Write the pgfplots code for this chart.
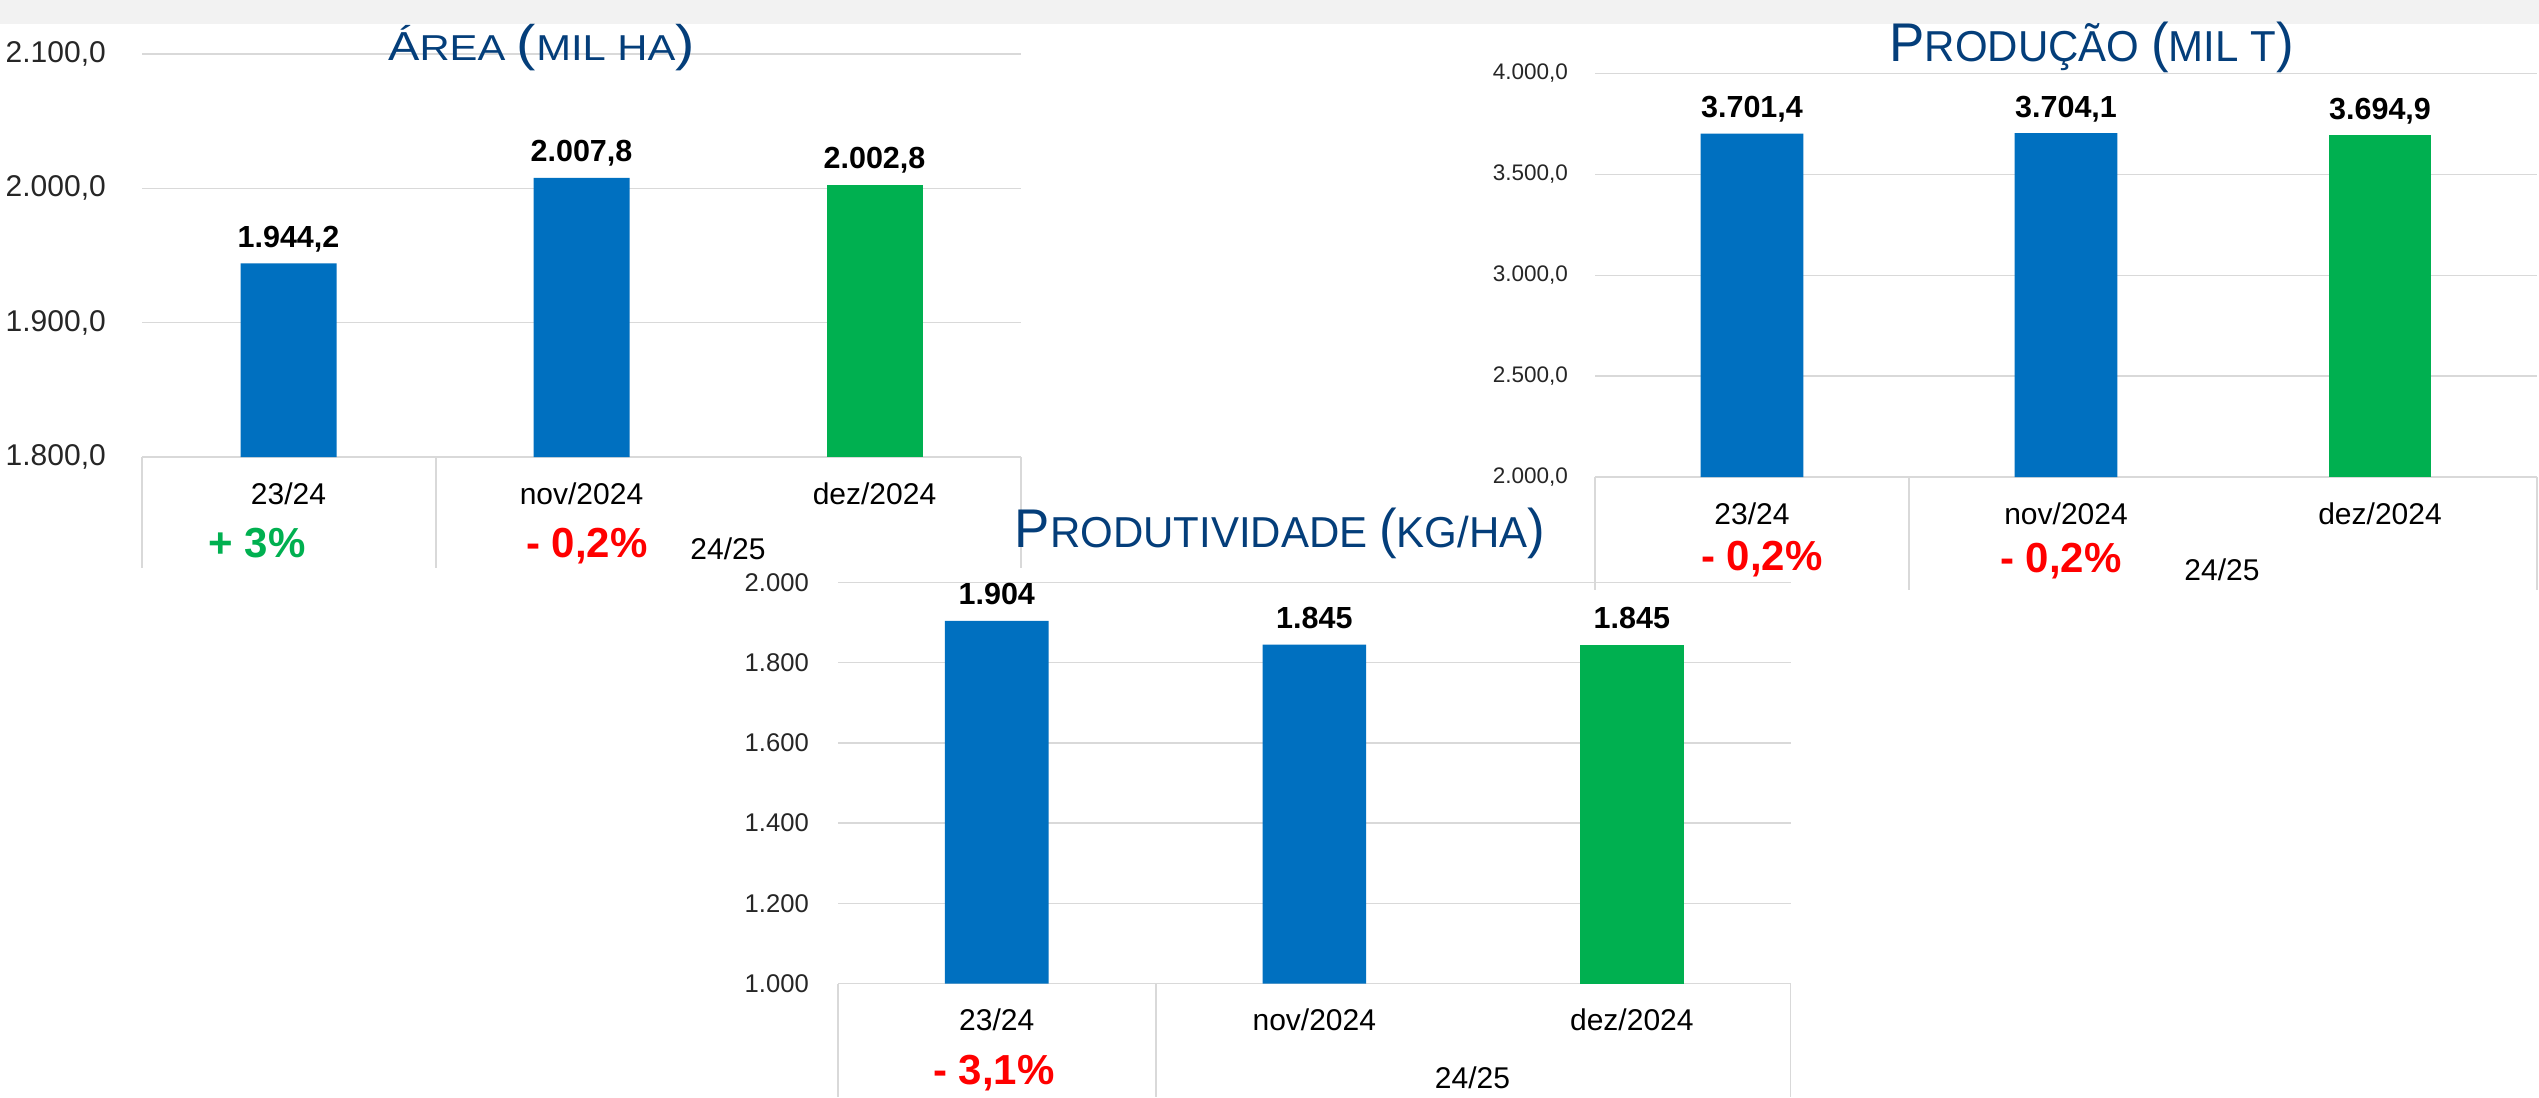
\documentclass[border=0pt]{standalone}
\usepackage{fontspec}
\setmainfont{Liberation Sans}
\usepackage{pgfplots}
\pgfplotsset{compat=1.18}

\definecolor{barblue}{HTML}{0070C0}
\definecolor{bargreen}{HTML}{00B050}
\definecolor{titleblue}{RGB}{4,62,122}
\definecolor{gridgray}{HTML}{D9D9D9}
\definecolor{bandgray}{HTML}{F2F2F2}
\definecolor{pctred}{HTML}{FF0000}
\definecolor{pctgreen}{HTML}{00B050}
\definecolor{ticktext}{HTML}{262626}

\newcommand\fs[1]{\fontsize{#1}{#1}\selectfont}

\pgfplotsset{
  excelbars/.style={
    scale only axis, anchor=south west,
    xmin=-0.5, xmax=2.5,
    axis line style={draw=none},
    major tick length=0pt,
    ymajorgrids, grid style={draw=gridgray, line width=1.5pt},
    xtick={0,1,2}, xticklabels={23/24,nov/2024,dez/2024},
    xticklabel style={anchor=base, inner sep=0pt, yshift=-47pt, font=\fs{30}, text=black},
    yticklabel style={anchor=east, inner sep=0pt, text=ticktext},
    /pgf/number format/use comma,
    /pgf/number format/fixed,
    /pgf/number format/fixed zerofill,
    /pgf/number format/assume math mode=true,
    point meta=explicit symbolic,
    nodes near coords,
    nodes near coords style={font=\bfseries\fs{30.5}, anchor=base, inner sep=0pt, yshift=16pt, text=black},
    clip mode=individual,
  },
}

\begin{document}
\begin{tikzpicture}[x=1pt,y=1pt]
\fill[white] (0,0) rectangle (2539,-1097);
\fill[bandgray] (0,0) rectangle (2539,-24);

% ---- Area (mil ha)
\begin{axis}[excelbars, at={(142pt,-457pt)}, width=879pt, height=403pt,
    ymin=1800, ymax=2100, ytick={1800,1900,2000,2100},
    /pgf/number format/precision=1,
    yticklabel style={font=\fs{30}, xshift=-36pt}]
  \addplot[ybar, bar width=96pt, bar shift=0pt, fill=barblue, draw=none]
    coordinates {(0,1944.2) [1.944,2] (1,2007.8) [2.007,8]};
  \addplot[ybar, bar width=96pt, bar shift=0pt, fill=bargreen, draw=none]
    coordinates {(2,2002.8) [2.002,8]};
\end{axis}

% ---- Producao (mil t)
\begin{axis}[excelbars, at={(1595pt,-477pt)}, width=942pt, height=403.5pt,
    ymin=2000, ymax=4000, ytick={2000,2500,3000,3500,4000},
    /pgf/number format/precision=1,
    yticklabel style={font=\fs{22.5}, xshift=-27pt}]
  \addplot[ybar, bar width=102.6pt, bar shift=0pt, fill=barblue, draw=none]
    coordinates {(0,3701.4) [3.701,4] (1,3704.1) [3.704,1]};
  \addplot[ybar, bar width=102.6pt, bar shift=0pt, fill=bargreen, draw=none]
    coordinates {(2,3694.9) [3.694,9]};
\end{axis}

% ---- Produtividade (kg/ha)
\begin{axis}[excelbars, at={(838pt,-983.7pt)}, width=952.6pt, height=401.4pt,
    ymin=1000, ymax=2000, ytick={1000,1200,1400,1600,1800,2000},
    /pgf/number format/precision=0,
    yticklabel style={font=\fs{25.6}, xshift=-29pt}]
  \addplot[ybar, bar width=103.6pt, bar shift=0pt, fill=barblue, draw=none]
    coordinates {(0,1904) [1.904] (1,1845) [1.845]};
  \addplot[ybar, bar width=103.6pt, bar shift=0pt, fill=bargreen, draw=none]
    coordinates {(2,1845) [1.845]};
\end{axis}

% category table dividers
\begin{scope}[draw=gridgray, line width=1.5pt]
  \draw (142,-457) -- (142,-568);
  \draw (436,-457) -- (436,-568);
  \draw (1021,-457) -- (1021,-568);
  \draw (1595,-477) -- (1595,-590);
  \draw (1909,-477) -- (1909,-590);
  \draw (2537,-477) -- (2537,-590);
  \draw (838,-983.7) -- (838,-1097);
  \draw (1156,-983.7) -- (1156,-1097);
  \draw (1790.6,-983.7) -- (1790.6,-1097);
\end{scope}

% group labels and variations
\begin{scope}[every node/.style={anchor=base, inner sep=0pt}]
  \node[font=\fs{30}] at (728,-559) {24/25};
  \node[font=\fs{30}] at (2222,-580) {24/25};
  \node[font=\fs{30}] at (1472.5,-1088) {24/25};
  \node[font=\bfseries\fs{42}, text=pctgreen] at (257,-557) {+ 3\%};
  \node[font=\bfseries\fs{42}, text=pctred] at (587,-557) {- 0,2\%};
  \node[font=\bfseries\fs{42}, text=pctred] at (1762,-570) {- 0,2\%};
  \node[font=\bfseries\fs{42}, text=pctred] at (2061,-572) {- 0,2\%};
  \node[font=\bfseries\fs{42}, text=pctred] at (994,-1084) {- 3,1\%};
\end{scope}

% titles (small caps as in the slide)
\begin{scope}[every node/.style={anchor=base, inner sep=0pt, text=titleblue}]
  \node at (541.5,-60.7) {\scalebox{1.16}[1]{\fs{40.5}Á\fs{36}REA \fs{50}(\fs{36}MIL HA\fs{50})}};
  \node at (2091.5,-61.7) {\scalebox{0.97}[1]{\fs{54.5}P\fs{43.3}RODUÇÃO \fs{54.5}(\fs{43.3}MIL T\fs{54.5})}};
  \node at (1280,-547.7) {\scalebox{0.97}[1]{\fs{54.5}P\fs{43.3}RODUTIVIDADE \fs{54.5}(\fs{43.3}KG/HA\fs{54.5})}};
\end{scope}

\pgfresetboundingbox
\useasboundingbox (0,0) rectangle (2539,-1097);
\end{tikzpicture}
\end{document}
